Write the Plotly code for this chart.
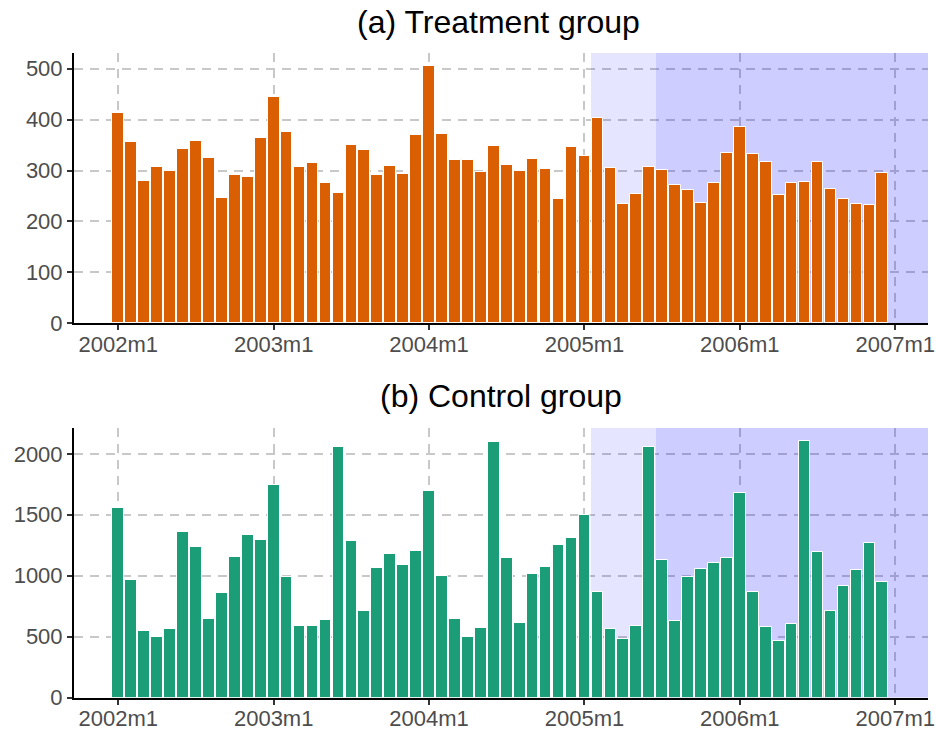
import plotly.graph_objects as go

years = [2002, 2003, 2004, 2005, 2006]
months = [f"{y}m{m}" for y in years for m in range(1, 13)]

treatment = [413, 357, 280, 307, 300, 343, 358, 325, 246, 292, 288, 364,
             445, 375, 308, 315, 275, 256, 351, 340, 291, 309, 293, 370,
             505, 372, 321, 321, 298, 349, 311, 299, 323, 303, 244, 346,
             329, 403, 306, 235, 254, 307, 301, 272, 262, 237, 276, 335,
             385, 333, 317, 253, 276, 277, 317, 264, 245, 235, 232, 296]

control = [1554, 962, 545, 498, 562, 1359, 1233, 641, 858, 1151, 1332, 1294,
           1743, 992, 586, 589, 633, 2058, 1288, 707, 1061, 1178, 1088, 1206,
           1694, 995, 647, 493, 573, 2100, 1143, 609, 1011, 1071, 1252, 1313,
           1502, 869, 559, 477, 589, 2056, 1129, 627, 992, 1058, 1102, 1146,
           1675, 869, 578, 460, 605, 2108, 1192, 707, 918, 1047, 1271, 946]

tick_labels = ["2002m1", "2003m1", "2004m1", "2005m1", "2006m1", "2007m1"]
tick_index = [0, 12, 24, 36, 48, 60]
treat_ticks = [0, 100, 200, 300, 400, 500]
ctrl_ticks = [0, 500, 1000, 1500, 2000]

# shaded periods (month index; start between 2005m1/m2 and 2005m6/m7)
shade_light_start = 36.5
shade_dark_start = 41.5

idx = list(range(len(months)))

W, H = 936, 734
xdom = [74 / W, 928 / W]
top_dom = [1 - 323.3 / H, 1 - 53 / H]
bot_dom = [1 - 697.5 / H, 1 - 428 / H]
xrange_ = [-3.42, 62.53]
top_max = 531
bot_max = 2212

fig = go.Figure()

# background shading drawn as translucent bars (above gridlines, below data bars)
for xa, ya, ymax in [("x", "y", top_max), ("x2", "y2", bot_max)]:
    for s in [shade_light_start, shade_dark_start]:
        fig.add_trace(go.Bar(x=[(s + xrange_[1]) / 2], y=[ymax], width=[xrange_[1] - s], base=0,
                             marker=dict(color="rgba(0,0,255,0.1)", line=dict(width=0)),
                             xaxis=xa, yaxis=ya, hoverinfo="skip", showlegend=False))

fig.add_trace(go.Bar(x=idx, y=treatment, width=0.9, marker=dict(color="#D95F02", line=dict(color="white", width=1)),
                     xaxis="x", yaxis="y", hovertext=months, showlegend=False))
fig.add_trace(go.Bar(x=idx, y=control, width=0.9, marker=dict(color="#1B9E77", line=dict(color="white", width=1)),
                     xaxis="x2", yaxis="y2", hovertext=months, showlegend=False))

grid = dict(showgrid=True, gridcolor="#C8C8C8", gridwidth=1.6, griddash="9px,7px")
axfont = dict(family="Liberation Sans, Arial, sans-serif", size=22, color="#4D4D4D")
common_x = dict(range=xrange_, tickvals=tick_index, ticktext=tick_labels, ticks="outside", ticklen=5,
                tickwidth=1.5, tickcolor="#333333", showline=True, linecolor="black", linewidth=2,
                zeroline=False, tickfont=axfont, automargin=False, ticklabelstandoff=-5, **grid)
common_y = dict(ticks="outside", ticklen=5, tickwidth=1.5, tickcolor="#333333", showline=True,
                linecolor="black", linewidth=2, zeroline=False, tickfont=axfont, automargin=False, **grid)

fig.update_layout(
    width=W, height=H,
    margin=dict(l=0, r=0, t=0, b=0),
    paper_bgcolor="white", plot_bgcolor="white",
    barmode="overlay", bargap=0,
    xaxis=dict(domain=xdom, anchor="y", **common_x),
    yaxis=dict(domain=top_dom, anchor="x", range=[0, top_max], tickvals=treat_ticks, **common_y),
    xaxis2=dict(domain=xdom, anchor="y2", **common_x),
    yaxis2=dict(domain=bot_dom, anchor="x2", range=[0, bot_max], tickvals=ctrl_ticks, **common_y),
    font=dict(family="Liberation Sans, Arial, sans-serif"),
)

titlefont = dict(family="Liberation Sans, Arial, sans-serif", size=32, color="black")
fig.add_annotation(text="(a) Treatment group", xref="paper", yref="paper", x=498 / W, y=1 - 22 / H,
                   showarrow=False, font=titlefont, xanchor="center", yanchor="middle")
fig.add_annotation(text="(b) Control group", xref="paper", yref="paper", x=501 / W, y=1 - 396 / H,
                   showarrow=False, font=titlefont, xanchor="center", yanchor="middle")

fig.write_html("out.html", config={"displayModeBar": False},
               post_script="document.body.style.margin='0px';")
